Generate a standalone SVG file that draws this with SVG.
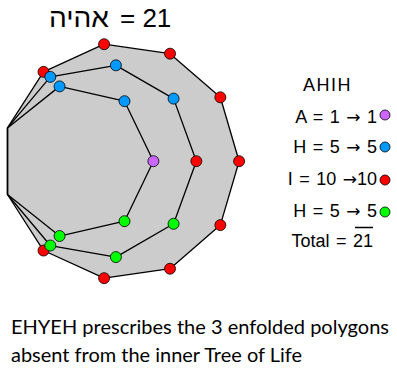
<svg xmlns="http://www.w3.org/2000/svg" width="397" height="383" viewBox="0 0 397 383">
<style>
.poly{fill:none;stroke:#000;stroke-width:1.3;stroke-linejoin:round}
.dot{stroke:#000;stroke-width:0.8}
.r{fill:#FF0000}.b{fill:#0099FF}.g{fill:#00FF00}.p{fill:#CC66FF}
.t{font-family:"Liberation Sans",Arial,sans-serif;fill:#000}
.leg{font-family:"Liberation Sans",Arial,sans-serif;font-size:18px;fill:#000;text-anchor:end;word-spacing:1.5px}
.ar{font-family:"DejaVu Sans",sans-serif;font-size:17px}
.cap{font-family:Lato,"Open Sans",sans-serif;font-size:20px;fill:#000}
</style>
<rect width="397" height="383" fill="#fff"/>
<g id="title">
<text class="t" x="79" y="27" font-size="27" text-anchor="middle" textLength="60" lengthAdjust="spacingAndGlyphs">אהיה</text>
<text class="t" x="120" y="27" font-size="26">= 21</text>
</g>
<g id="connectors">
<polygon id="hendecagon" points="7.5,127.9 43.51,71.87 104.09,44.2 170.01,53.68 220.35,97.3 239.11,161.2 220.35,225.1 170.01,268.72 104.09,278.2 43.51,250.53 7.5,194.5" fill="#CCCCCC" stroke="#000" stroke-width="1.3" stroke-linejoin="round"/>
<polygon id="nonagon" class="poly" points="7.5,127.9 50.31,76.88 115.9,65.32 173.57,98.62 196.35,161.2 173.57,223.78 115.9,257.08 50.31,245.52 7.5,194.5"/>
<polygon id="heptagon" class="poly" points="7.5,127.9 59.57,86.38 124.5,101.2 153.4,161.2 124.5,221.2 59.57,236.02 7.5,194.5"/>
</g>
<g id="red-dots">
<circle class="dot r" cx="43.51" cy="71.87" r="5.5"/>
<circle class="dot r" cx="104.09" cy="44.2" r="5.5"/>
<circle class="dot r" cx="170.01" cy="53.68" r="5.5"/>
<circle class="dot r" cx="220.35" cy="97.3" r="5.5"/>
<circle class="dot r" cx="239.11" cy="161.2" r="5.5"/>
<circle class="dot r" cx="220.35" cy="225.1" r="5.5"/>
<circle class="dot r" cx="170.01" cy="268.72" r="5.5"/>
<circle class="dot r" cx="104.09" cy="278.2" r="5.5"/>
<circle class="dot r" cx="43.51" cy="250.53" r="5.5"/>
<circle class="dot r" cx="196.35" cy="161.2" r="5.5"/>
</g>
<g id="blue-dots">
<circle class="dot b" cx="50.31" cy="76.88" r="5.5"/>
<circle class="dot b" cx="115.9" cy="65.32" r="5.5"/>
<circle class="dot b" cx="173.57" cy="98.62" r="5.5"/>
<circle class="dot b" cx="59.57" cy="86.38" r="5.5"/>
<circle class="dot b" cx="124.5" cy="101.2" r="5.5"/>
</g>
<g id="purple-dot">
<circle class="dot p" cx="153.4" cy="161.2" r="5.5"/>
</g>
<g id="green-dots">
<circle class="dot g" cx="173.57" cy="223.78" r="5.5"/>
<circle class="dot g" cx="115.9" cy="257.08" r="5.5"/>
<circle class="dot g" cx="50.31" cy="245.52" r="5.5"/>
<circle class="dot g" cx="124.5" cy="221.2" r="5.5"/>
<circle class="dot g" cx="59.57" cy="236.02" r="5.5"/>
</g>
<g id="legend">
<text class="leg" x="352" y="91" letter-spacing="1.5">AHIH</text>
<text class="leg" x="377" y="123">A = 1 <tspan class="ar">→</tspan> 1</text>
<circle class="dot p" cx="385" cy="115" r="5"/>
<text class="leg" x="377" y="153">H = 5 <tspan class="ar">→</tspan> 5</text>
<circle class="dot b" cx="385" cy="147" r="5"/>
<text class="leg" x="377" y="185">I = 10 <tspan class="ar">→</tspan>10</text>
<circle class="dot r" cx="385" cy="180" r="5"/>
<text class="leg" x="377" y="217">H = 5 <tspan class="ar">→</tspan> 5</text>
<circle class="dot g" cx="385" cy="212" r="5"/>
<text class="leg" x="373" y="247" word-spacing="0">Total = 21</text>
<line x1="355" y1="227.5" x2="373" y2="227.5" stroke="#000" stroke-width="1.5"/>
</g>
<g id="caption">
<text class="cap" x="11" y="334" textLength="378" lengthAdjust="spacingAndGlyphs">EHYEH prescribes the 3 enfolded polygons</text>
<text class="cap" x="11" y="362" textLength="291" lengthAdjust="spacingAndGlyphs">absent from the inner Tree of Life</text>
</g>
</svg>
